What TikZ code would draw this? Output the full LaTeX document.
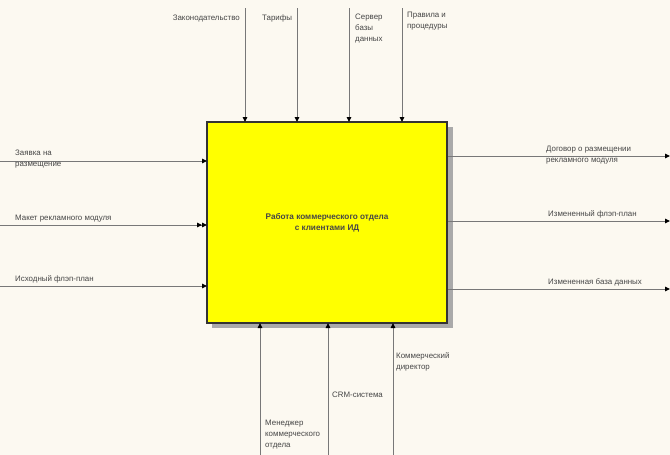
\documentclass[tikz,border=0pt]{standalone}
\usepackage{fontspec}
\setmainfont{Liberation Sans}
\usetikzlibrary{arrows.meta}
\definecolor{bgc}{RGB}{252,249,241}
\definecolor{linec}{RGB}{120,120,120}
\definecolor{txtc}{RGB}{70,70,70}
\definecolor{boxy}{RGB}{255,255,0}
\definecolor{shadowc}{RGB}{170,170,170}
\tikzset{
  lbl/.style={font=\fontsize{7.9}{11}\selectfont, text=txtc, inner sep=0pt, align=left},
  flow/.style={draw=linec, line width=1pt, -{Triangle[length=5pt,width=4.5pt,color=black]}},
  dflow/.style={draw=linec, line width=1pt, -{Triangle[length=5pt,width=4.5pt,color=black]Triangle[length=5pt,width=4.5pt,color=black]}},
  actbox/.style={draw=black!80, line width=1.3pt, fill=boxy, minimum width=240pt, minimum height=201pt, inner sep=0pt, align=center, font=\fontsize{8.2}{11}\selectfont\bfseries, text=txtc},
}
\begin{document}
\begin{tikzpicture}[x=1pt,y=-1pt]
\fill[bgc] (0,0) rectangle (670,455);
\useasboundingbox (0,0) rectangle (670,455);
% shadow
\fill[shadowc] (212,127) rectangle (453,328);
\node[actbox] (box) at (327,222.5) {Работа коммерческого отдела\\с клиентами ИД};
% top controls
\coordinate (t1s) at (245,8); \coordinate (t1e) at (245,122);
\coordinate (t2s) at (297,8); \coordinate (t2e) at (297,122);
\coordinate (t3s) at (349,8); \coordinate (t3e) at (349,122);
\coordinate (t4s) at (402,8); \coordinate (t4e) at (402,122);
\draw[flow] (t1s) -- (t1e);
\draw[flow] (t2s) -- (t2e);
\draw[flow] (t3s) -- (t3e);
\draw[flow] (t4s) -- (t4e);
\node[lbl, anchor=north east] (lt1) at (240,15) {Законодательство};
\node[lbl, anchor=north west] (lt2) at (262,15) {Тарифы};
\node[lbl, anchor=north west] (lt3) at (355,14) {Сервер\\базы\\данных};
\node[lbl, anchor=north west] (lt4) at (407,12) {Правила и\\процедуры};
% left inputs
\coordinate (i1s) at (0,161); \coordinate (i1e) at (207,161);
\coordinate (i2s) at (0,225); \coordinate (i2e) at (207,225);
\coordinate (i3s) at (0,286); \coordinate (i3e) at (207,286);
\draw[flow] (i1s) -- (i1e);
\draw[dflow] (i2s) -- (i2e);
\draw[flow] (i3s) -- (i3e);
\node[lbl, anchor=north west] (li1) at (15,150) {Заявка на\\размещение};
\node[lbl, anchor=south west] (li2) at (15,222) {Макет рекламного модуля};
\node[lbl, anchor=south west] (li3) at (15,283) {Исходный флэп-план};
% right outputs
\coordinate (o1s) at (448,156); \coordinate (o1e) at (670,156);
\coordinate (o2s) at (448,221); \coordinate (o2e) at (670,221);
\coordinate (o3s) at (448,289); \coordinate (o3e) at (670,289);
\draw[flow] (o1s) -- (o1e);
\draw[flow] (o2s) -- (o2e);
\draw[flow] (o3s) -- (o3e);
\node[lbl, anchor=north west] (lo1) at (546,146) {Договор о размещении\\рекламного модуля};
\node[lbl, anchor=south west] (lo2) at (548,218) {Измененный флэп-план};
\node[lbl, anchor=south west] (lo3) at (548,286) {Измененная база данных};
% bottom mechanisms
\coordinate (m1s) at (260,455); \coordinate (m1e) at (260,323);
\coordinate (m2s) at (328,455); \coordinate (m2e) at (328,323);
\coordinate (m3s) at (393,455); \coordinate (m3e) at (393,323);
\draw[flow] (m1s) -- (m1e);
\draw[flow] (m2s) -- (m2e);
\draw[flow] (m3s) -- (m3e);
\node[lbl, anchor=north west] (lm1) at (265,420) {Менеджер\\коммерческого\\отдела};
\node[lbl, anchor=north west] (lm2) at (332,392) {CRM-система};
\node[lbl, anchor=north west] (lm3) at (396,352) {Коммерческий\\директор};
\end{tikzpicture}
\end{document}
